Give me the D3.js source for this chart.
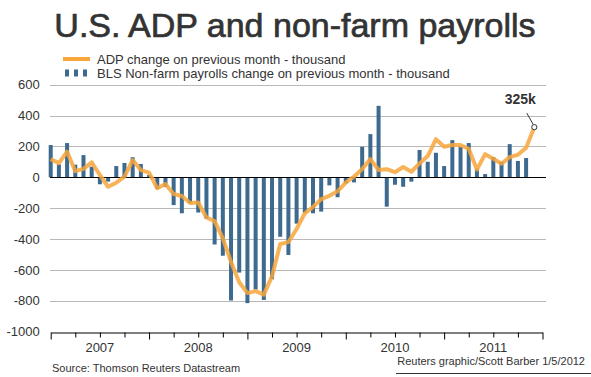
<!DOCTYPE html>
<html>
<head>
<meta charset="utf-8">
<script src="https://cdn.jsdelivr.net/npm/d3@7"></script>
<style>
  body { margin: 0; background: #fff; }
  text { font-family: "Liberation Sans", Arial, sans-serif; }
</style>
</head>
<body>
<div id="chart"></div>
<script>
const layout = {
    width: 591,
    height: 377,
    left: 50.7,
    right: 542.5,
    top: 84.7,
    bottom: 331.7,
    gridRight: 546
};

// categories / ticks
const years = ["2007", "2008", "2009", "2010", "2011"];
const yTicks = [600, 400, 200, 0, -200, -400, -600, -800, -1000];

// BLS non-farm payrolls, Jan 2007 - Nov 2011 (thousand)
const blsChange = [
    209, 84, 222, 82, 144, 69, -45, -28, 73, 93, 130, 86,
    15, -75, -63, -180, -233, -168, -228, -268, -435, -508, -798, -617,
    -815, -727, -794, -660, -385, -503, -300, -230, -233, -222, -52, -129,
    -40, -33, 198, 280, 463, -190, -48, -61, -28, 177, 101, 159,
    73, 241, 196, 222, 56, 21, 131, 101, 215, 106, 125
];

// ADP change, Jan 2007 - Dec 2011 (thousand)
const adpChange = [
    118, 92, 166, 40, 55, 97, 15, -61, -35, 4, 112, 47,
    30, -71, -43, -108, -121, -166, -163, -260, -284, -395, -548, -680,
    -750, -737, -760, -642, -432, -420, -335, -233, -192, -141, -120, -90,
    -35, 4, 54, 118, 47, 53, 33, 67, 36, 90, 138, 247,
    198, 209, 209, 185, 50, 150, 120, 88, 131, 146, 192, 325
];

const lastLabel = "325k";

let svg = d3.select("#chart").append("svg")
    .attr("width", layout.width)
    .attr("height", layout.height)
    .attr("viewBox", [0, 0, layout.width, layout.height].join(" "));

// scales
let xScale = d3.scaleLinear()
    .domain([0, years.length * 12])
    .range([layout.left, layout.right]);
let yScale = d3.scaleLinear()
    .domain([-1000, 600])
    .range([layout.bottom, layout.top]);

// title
svg.append("text")
    .attr("x", 295)
    .attr("y", 37)
    .attr("text-anchor", "middle")
    .attr("font-size", 34)
    .attr("fill", "#333")
    .attr("stroke", "#333")
    .attr("stroke-width", 0.7)
    .text("U.S. ADP and non-farm payrolls");

// legend
svg.append("line")
    .attr("x1", 63).attr("x2", 90)
    .attr("y1", 59).attr("y2", 59)
    .attr("stroke", "#f7a63c")
    .attr("stroke-width", 4);
svg.append("text")
    .attr("x", 97).attr("y", 64)
    .attr("font-size", 13)
    .attr("fill", "#333")
    .text("ADP change on previous month - thousand");
[65, 74, 83].forEach(px => {
    svg.append("rect")
        .attr("x", px).attr("y", 69.5)
        .attr("width", 4).attr("height", 7)
        .attr("fill", "#3d6a8e");
});
svg.append("text")
    .attr("x", 97).attr("y", 78)
    .attr("font-size", 13)
    .attr("fill", "#333")
    .text("BLS Non-farm payrolls change on previous month - thousand");

// gridlines
svg.append("g").selectAll("line")
    .data(yTicks.filter(d => d !== 0 && d !== -1000))
    .join("line")
    .attr("x1", 50).attr("x2", layout.gridRight)
    .attr("y1", d => Math.round(yScale(d)) + 0.5)
    .attr("y2", d => Math.round(yScale(d)) + 0.5)
    .attr("stroke", "#b8b8b8")
    .attr("stroke-width", 1);

// y axis labels
let yAxis = svg.append("g")
    .attr("transform", `translate(${layout.left},0)`)
    .call(d3.axisLeft(yScale)
        .tickValues(yTicks)
        .tickSize(0)
        .tickPadding(11)
        .tickFormat(d => String(d)));
yAxis.select(".domain").remove();
yAxis.selectAll("text")
    .attr("font-family", "Liberation Sans, Arial, sans-serif")
    .attr("font-size", 13)
    .attr("fill", "#333");

// bars
svg.append("g").selectAll("rect")
    .data(blsChange)
    .join("rect")
    .attr("x", (d, i) => xScale(i) - 2)
    .attr("width", 4)
    .attr("y", d => yScale(Math.max(0, d)))
    .attr("height", d => Math.abs(yScale(d) - yScale(0)))
    .attr("fill", "#3d6a8e");

// zero line
svg.append("line")
    .attr("x1", 50).attr("x2", layout.gridRight)
    .attr("y1", Math.round(yScale(0)) + 0.5)
    .attr("y2", Math.round(yScale(0)) + 0.5)
    .attr("stroke", "#000")
    .attr("stroke-width", 1);

// ADP line
svg.append("path")
    .datum(adpChange)
    .attr("fill", "none")
    .attr("stroke", "#f7a63c")
    .attr("stroke-width", 4)
    .attr("stroke-opacity", 0.85)
    .attr("stroke-linejoin", "round")
    .attr("d", d3.line()
        .x((d, i) => xScale(i))
        .y(d => yScale(d)));

// bottom axis
let xAxis = svg.append("g")
    .attr("transform", `translate(0,${Math.round(layout.bottom) + 0.5})`)
    .call(d3.axisBottom(xScale)
        .tickValues(d3.range(0, years.length * 12 + 1, 3))
        .tickSize(5)
        .tickSizeOuter(0)
        .tickFormat(""));
xAxis.select(".domain").attr("stroke", "#000").attr("stroke-width", 1.2);
xAxis.selectAll(".tick line")
    .attr("stroke", "#000")
    .attr("y2", d => d % 12 === 0 ? 7 : 5);

svg.append("g").selectAll("text")
    .data(years)
    .join("text")
    .attr("x", (d, i) => xScale(i * 12 + 6))
    .attr("y", 352)
    .attr("text-anchor", "middle")
    .attr("font-size", 13)
    .attr("fill", "#333")
    .text(d => d);

// last ADP value callout
let lastI = adpChange.length - 1;
let lx = xScale(lastI), ly = yScale(adpChange[lastI]);
svg.append("line")
    .attr("x1", lx - 7.5).attr("y1", ly - 14)
    .attr("x2", lx - 1).attr("y2", ly - 2.5)
    .attr("stroke", "#333")
    .attr("stroke-width", 1);
svg.append("circle")
    .attr("cx", lx).attr("cy", ly)
    .attr("r", 2.6)
    .attr("fill", "#fff")
    .attr("stroke", "#333")
    .attr("stroke-width", 1);
svg.append("text")
    .attr("x", lx - 14).attr("y", ly - 23)
    .attr("text-anchor", "middle")
    .attr("font-size", 14)
    .attr("font-weight", "bold")
    .attr("fill", "#333")
    .text(lastLabel);

// footer
svg.append("text")
    .attr("x", 52).attr("y", 372)
    .attr("font-size", 11)
    .attr("fill", "#333")
    .text("Source: Thomson Reuters Datastream");
svg.append("text")
    .attr("x", 585).attr("y", 365)
    .attr("text-anchor", "end")
    .attr("font-size", 11)
    .attr("fill", "#333")
    .text("Reuters graphic/Scott Barber 1/5/2012");
svg.append("line")
    .attr("x1", 396).attr("x2", 591)
    .attr("y1", 373.5).attr("y2", 373.5)
    .attr("stroke", "#333")
    .attr("stroke-width", 1);
</script>
</body>
</html>
